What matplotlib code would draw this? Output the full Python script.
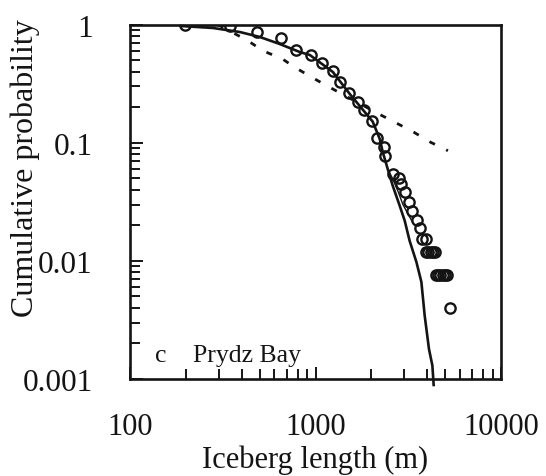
import numpy as np
import matplotlib
matplotlib.use("Agg")
import matplotlib.pyplot as plt
from matplotlib.ticker import LogLocator, NullFormatter, FixedLocator, FixedFormatter

plt.rcParams['font.family'] = ['Liberation Serif', 'DejaVu Serif']

# Observed iceberg lengths (m) and their cumulative probability
obs_length = [198, 346, 483, 648, 788, 940, 1085, 1235, 1363, 1511, 1696, 1820,
              2028, 2157, 2333, 2362, 2617, 2820, 2905, 3026, 3179, 3321, 3512,
              3667, 3740, 3950,
              3950, 4060, 4170, 4280, 4400,
              4450, 4580, 4710, 4850, 4990, 5130,
              5333]
obs_prob = [1.0, 0.981, 0.862, 0.767, 0.607, 0.557, 0.474, 0.403, 0.329, 0.2625,
            0.2229, 0.1907, 0.153, 0.1092, 0.093, 0.0778, 0.0544, 0.050, 0.0448,
            0.0385, 0.0313, 0.0266, 0.0223, 0.0191, 0.0153, 0.0153,
            0.0118, 0.0118, 0.0118, 0.0118, 0.0118,
            0.0076, 0.0076, 0.0076, 0.0076, 0.0076, 0.0076,
            0.00397]

# Thin trace joining part of the observations
obs_trace_length = [2451, 2600, 2800, 2960, 3150, 3350]
obs_trace_prob = [0.060, 0.050, 0.038, 0.030, 0.025, 0.021]

# Fitted distribution (solid)
fit_length = [188, 280, 391, 501, 642, 823, 932, 1240, 1530, 2035, 2220, 2304,
              2451, 2608, 2844, 3026, 3219, 3499, 3722, 3878, 4090, 4266, 4335]
fit_prob = [0.975, 0.938, 0.867, 0.787, 0.686, 0.587, 0.554, 0.398, 0.259, 0.151,
            0.1077, 0.0836, 0.060, 0.0433, 0.0293, 0.0219, 0.01474, 0.00979,
            0.00663, 0.00344, 0.001795, 0.0013, 0.00089]

# Alternative fit (dashed)
alt_length = [298, 432, 520, 664, 773, 955, 1165, 2220, 2706, 3396, 4177, 5176]
alt_prob = [1.0, 0.732, 0.602, 0.5124, 0.4358, 0.3585, 0.301, 0.1737, 0.148,
            0.1227, 0.101, 0.0857]

ink = '#141414'

fig = plt.figure(figsize=(5.46, 4.77), dpi=100)
ax = fig.add_axes([130/546, 1 - 380/477, 371/546, 354.3/477])

ax.plot(alt_length, alt_prob, color=ink, lw=2.0, ls=(0, (2.2, 4.5)),
        dash_capstyle='butt')
ax.plot(obs_trace_length, obs_trace_prob, color=ink, lw=1.0, zorder=3)
ax.plot(fit_length, fit_prob, color=ink, lw=1.9, clip_on=False, zorder=3)
ax.plot(obs_length, obs_prob, ls='none', marker='o', ms=7.4, mfc='none',
        mec=ink, mew=1.7, zorder=4)

ax.set_xscale('log')
ax.set_yscale('log')
ax.set_xlim(100, 10000)
ax.set_ylim(0.001, 1)

ax.xaxis.set_major_locator(FixedLocator([100, 1000, 10000]))
ax.xaxis.set_major_formatter(FixedFormatter(['100', '1000', '10000']))
ax.yaxis.set_major_locator(FixedLocator([0.001, 0.01, 0.1, 1]))
ax.yaxis.set_major_formatter(FixedFormatter(['0.001', '0.01', '0.1', '1']))
ax.xaxis.set_minor_locator(LogLocator(base=10, subs=np.arange(2, 10)))
ax.yaxis.set_minor_locator(LogLocator(base=10, subs=np.arange(2, 10)))
ax.xaxis.set_minor_formatter(NullFormatter())
ax.yaxis.set_minor_formatter(NullFormatter())

ax.tick_params(which='both', direction='in', top=False, right=False,
               color=ink, width=1.4, labelsize=22, labelcolor=ink)
ax.tick_params(axis='y', labelsize=22.5)
ax.tick_params(which='major', length=9)
ax.tick_params(which='minor', length=7)
ax.tick_params(axis='x', which='major', pad=24)
ax.tick_params(axis='y', which='major', pad=27)

for sp in ax.spines.values():
    sp.set_linewidth(1.9)
    sp.set_color(ink)

ax.set_xlabel('Iceberg length (m)', fontsize=22, color=ink, labelpad=2)
fig.text(25/546, 1 - 168/477, 'Cumulative probability', rotation=90,
         fontsize=23, color=ink, ha='center', va='center')

ax.text(0.067, 0.05, 'c', transform=ax.transAxes, fontsize=18.5, color=ink)
ax.text(0.17, 0.05, 'Prydz Bay', transform=ax.transAxes, fontsize=18.5,
        color=ink)

fig.savefig('out.png', dpi=100)
